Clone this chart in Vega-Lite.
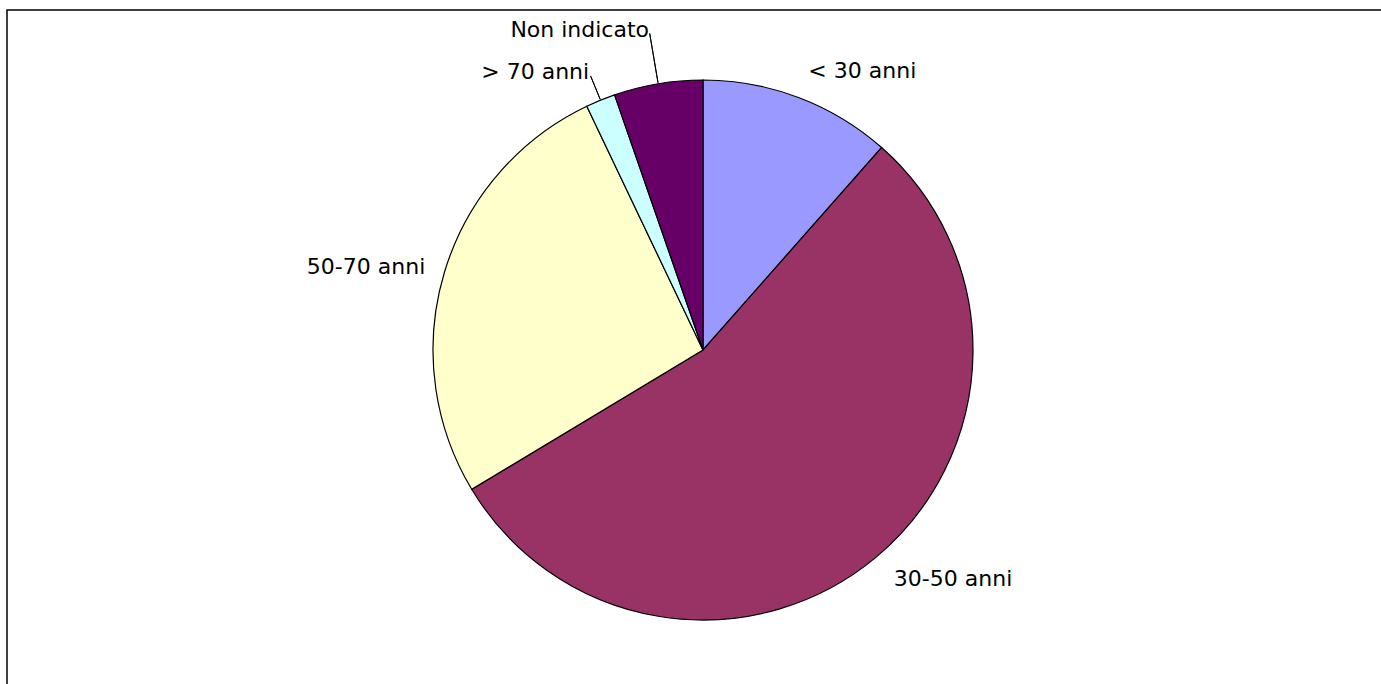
{
  "$schema": "https://vega.github.io/schema/vega-lite/v6.json",
  "width": 1392,
  "height": 680,
  "autosize": {"type": "none"},
  "padding": {"left": 7, "top": 10, "right": -18, "bottom": -6},
  "background": "white",
  "view": {"stroke": "black", "strokeWidth": 1.5, "fill": "white"},
  "config": {"view": {"stroke": "black", "strokeWidth": 1.5}},
  "data": {
    "values": [
      {"fascia": "< 30 anni", "ordine": 1, "persone": 13},
      {"fascia": "30-50 anni", "ordine": 2, "persone": 62},
      {"fascia": "50-70 anni", "ordine": 3, "persone": 30},
      {"fascia": "> 70 anni", "ordine": 4, "persone": 2},
      {"fascia": "Non indicato", "ordine": 5, "persone": 6}
    ]
  },
  "encoding": {
    "theta": {"field": "persone", "type": "quantitative", "stack": true},
    "order": {"field": "ordine", "type": "ordinal"}
  },
  "layer": [
    {
      "mark": {"type": "arc", "radius": 270, "stroke": "black", "strokeWidth": 1.2},
      "encoding": {
        "color": {
          "field": "fascia",
          "type": "nominal",
          "legend": null,
          "scale": {
            "domain": ["< 30 anni", "30-50 anni", "50-70 anni", "> 70 anni", "Non indicato"],
            "range": ["#9999FF", "#993366", "#FFFFCC", "#CCFFFF", "#660066"]
          }
        }
      }
    },
    {
      "mark": {"type": "arc", "innerRadius": 271, "outerRadius": 296, "padAngle": 1, "fill": "transparent", "stroke": "black", "strokeWidth": 1},
      "encoding": {
        "strokeOpacity": {"condition": {"test": "datum.fascia === '> 70 anni'", "value": 1}, "value": 0}
      }
    },
    {
      "mark": {"type": "arc", "innerRadius": 271, "outerRadius": 321, "padAngle": 1, "fill": "transparent", "stroke": "black", "strokeWidth": 1},
      "encoding": {
        "strokeOpacity": {"condition": {"test": "datum.fascia === 'Non indicato'", "value": 1}, "value": 0}
      }
    },
    {
      "mark": {"type": "text", "radius": 298, "align": "left", "baseline": "middle", "font": "DejaVu Sans", "fontSize": 22, "color": "black"},
      "encoding": {
        "text": {"condition": {"test": "datum.fascia === '< 30 anni' || datum.fascia === '30-50 anni'", "field": "fascia"}, "value": ""}
      }
    },
    {
      "mark": {"type": "text", "radius": 290, "align": "right", "baseline": "middle", "font": "DejaVu Sans", "fontSize": 22, "color": "black"},
      "encoding": {
        "text": {"condition": {"test": "datum.fascia === '50-70 anni'", "field": "fascia"}, "value": ""}
      }
    },
    {
      "mark": {"type": "text", "radius": 300, "align": "right", "baseline": "middle", "font": "DejaVu Sans", "fontSize": 22, "color": "black"},
      "encoding": {
        "text": {"condition": {"test": "datum.fascia === '> 70 anni'", "field": "fascia"}, "value": ""}
      }
    },
    {
      "mark": {"type": "text", "radius": 325, "align": "right", "baseline": "middle", "font": "DejaVu Sans", "fontSize": 22, "color": "black"},
      "encoding": {
        "text": {"condition": {"test": "datum.fascia === 'Non indicato'", "field": "fascia"}, "value": ""}
      }
    }
  ]
}
